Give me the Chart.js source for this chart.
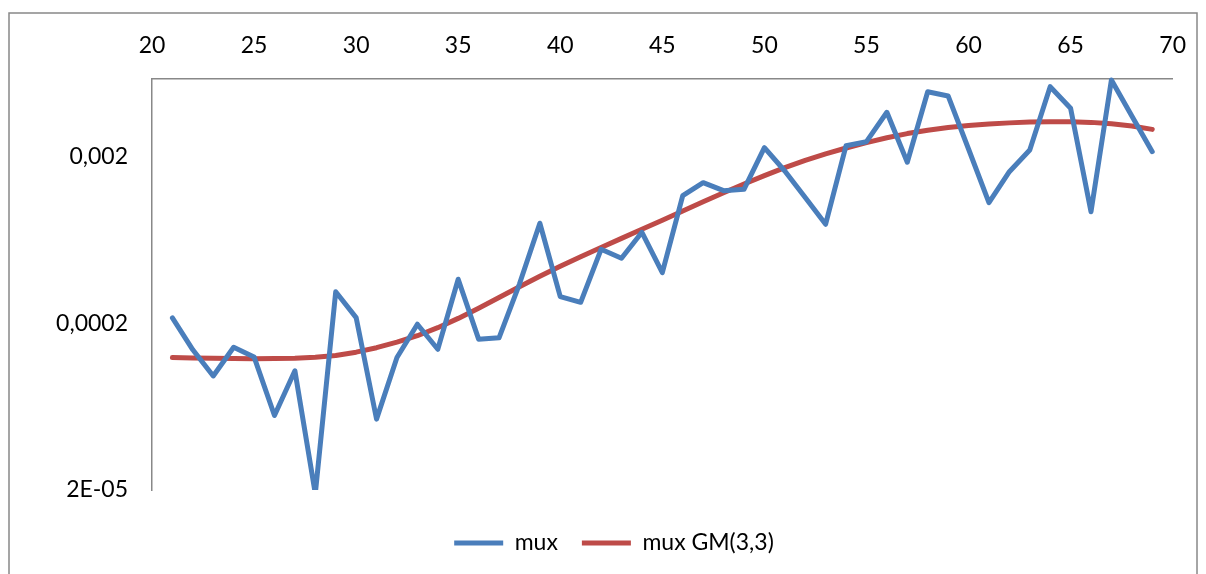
<!DOCTYPE html>
<html><head><meta charset="utf-8">
<script src="https://cdn.jsdelivr.net/npm/chart.js@4/dist/chart.umd.min.js"></script>
<style>html,body{margin:0;padding:0;background:#fff}canvas{display:block}</style>
</head><body>
<canvas id="c" width="1206" height="574"></canvas>
<script>
const ages = [21,22,23,24,25,26,27,28,29,30,31,32,33,34,35,36,37,38,39,40,41,42,43,44,45,46,47,48,49,50,51,52,53,54,55,56,57,58,59,60,61,62,63,64,65,66,67,68,69];
const mux = [
  0.000216, 0.000139, 0.0000968, 0.000144, 0.000126, 0.0000560, 0.000104, 0.000019, 0.000310, 0.000217,
  0.0000533, 0.000125, 0.000198, 0.000140, 0.000369, 0.000161, 0.000164, 0.000345, 0.000800, 0.000290,
  0.000268, 0.000558, 0.000493, 0.000706, 0.000404, 0.001171, 0.001402, 0.001255, 0.001279, 0.002274,
  0.001648, 0.001142, 0.000789, 0.002338, 0.002471, 0.003711, 0.001859, 0.004934, 0.004650, 0.002234,
  0.001063, 0.001632, 0.002204, 0.005288, 0.003922, 0.000938, 0.005802, 0.003526, 0.002152];
const muxGM = [
  0.0001250, 0.0001243, 0.0001236, 0.0001231, 0.0001229, 0.0001231, 0.0001238, 0.0001255, 0.0001286, 0.0001345,
  0.0001431, 0.0001544, 0.0001689, 0.0001887, 0.0002146, 0.0002471, 0.0002865, 0.0003327, 0.0003847, 0.0004418,
  0.0005038, 0.0005722, 0.0006490, 0.0007358, 0.0008346, 0.0009474, 0.0010764, 0.0012191, 0.0013767, 0.0015461,
  0.0017249, 0.0019082, 0.0020904, 0.0022650, 0.0024402, 0.0026084, 0.0027642, 0.0028976, 0.0030076, 0.0030920,
  0.0031568, 0.0032052, 0.0032408, 0.0032586, 0.0032542, 0.0032274, 0.0031698, 0.0030708, 0.0029296];
const seriesNames = ['mux', 'mux GM(3,3)'];
const xTickValues = [20, 25, 30, 35, 40, 45, 50, 55, 60, 65, 70];
const yTickValues = [0.00002, 0.0002, 0.002];
const yTickLabels = ['2E-05', '0,0002', '0,002'];

const FONT = {family: 'Lato', size: 23};
const AXIS = '#888888';

const frame = {
  id: 'frame',
  beforeDraw(chart) {
    const c = chart.ctx;
    c.save();
    c.fillStyle = '#ffffff';
    c.fillRect(0, 0, chart.width, chart.height);
    c.strokeStyle = AXIS;
    c.lineWidth = 1.5;
    c.strokeRect(9, 13, 1188, 620);
    c.restore();
  },
  afterLayout(chart) {
    const lg = chart.legend;
    if (lg) { lg.left += 26; lg.right += 26; }
  }
};

const toPts = (vals) => vals.map((v, i) => ({x: ages[i], y: v}));
const lineStyle = (color) => ({
  borderColor: color, backgroundColor: color, borderWidth: 5, pointRadius: 0, tension: 0,
  borderCapStyle: 'round', borderJoinStyle: 'round', clip: {left: 5, right: 5, top: 5, bottom: 0}
});

new Chart(document.getElementById('c'), {
  type: 'line',
  data: {
    datasets: [
      Object.assign({label: seriesNames[0], data: toPts(mux)}, lineStyle('#4A7EBB')),
      Object.assign({label: seriesNames[1], data: toPts(muxGM)}, lineStyle('#BE4B48'))
    ]
  },
  options: {
    responsive: false,
    animation: false,
    devicePixelRatio: 1,
    layout: {padding: {left: 0, right: 30, top: 0, bottom: 9.5}},
    plugins: {
      legend: {
        position: 'bottom',
        title: {display: true, text: '', font: {size: 10, lineHeight: 1}, padding: {top: 7.5, bottom: 0}},
        labels: {usePointStyle: true, pointStyle: 'line', pointStyleWidth: 49, padding: 24, color: '#000', font: FONT}
      },
      tooltip: {enabled: false}
    },
    scales: {
      x: {
        type: 'linear', position: 'top', min: 20, max: 70,
        grid: {display: false, drawTicks: false},
        border: {display: true, color: AXIS, width: 1.5},
        ticks: {padding: 20, color: '#000', font: FONT, maxRotation: 0, callback: (v) => String(v)},
        afterBuildTicks: (s) => { s.ticks = xTickValues.map(v => ({value: v})); },
        afterFit: (s) => { s.height = 79; }
      },
      y: {
        type: 'logarithmic', position: 'left', min: 0.00002, max: 0.00588,
        grid: {display: false, drawTicks: false},
        border: {display: true, color: AXIS, width: 1.5},
        ticks: {padding: 24, color: '#000', font: FONT,
          callback: (v) => { const i = yTickValues.indexOf(v); return i >= 0 ? yTickLabels[i] : ''; }},
        afterBuildTicks: (s) => { s.ticks = yTickValues.map(v => ({value: v})); },
        afterFit: (s) => { s.width = 152; }
      }
    }
  },
  plugins: [frame]
});
</script>
</body></html>
